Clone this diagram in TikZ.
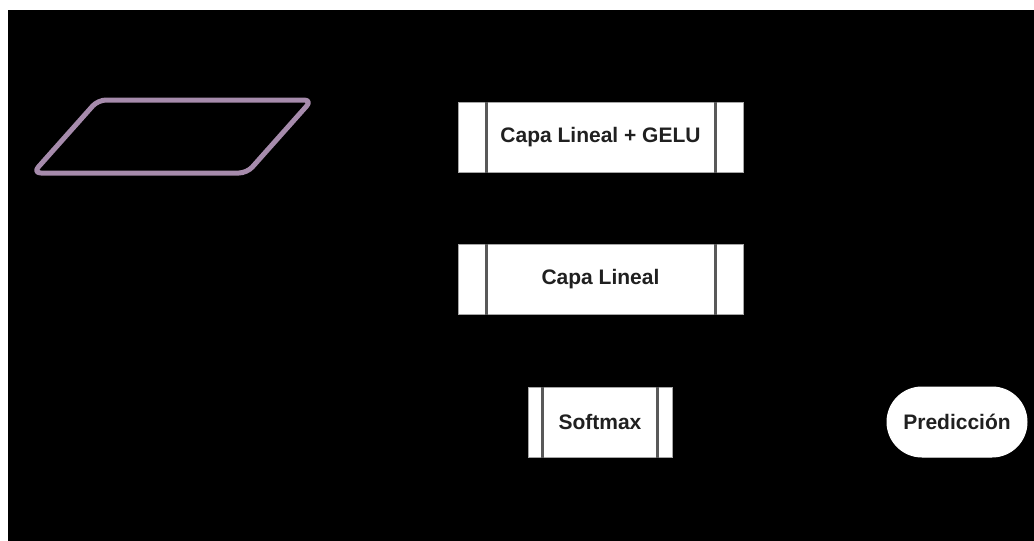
\documentclass[tikz,border=0pt]{standalone}
\usepackage{fontspec}
\setmainfont{Liberation Sans}
\definecolor{lila}{HTML}{A68BAC}
\definecolor{txt}{HTML}{202020}
\begin{document}
\begin{tikzpicture}[x=1pt,y=-1pt,
  procbox/.style={draw=black!35, line width=1pt, fill=white, minimum height=70pt, inner sep=0pt,
    font=\bfseries\fontsize{21}{25}\selectfont, text=txt},
  innerline/.style={draw=black!65, line width=2.5pt},
  termbox/.style={draw=white, line width=1pt, fill=white, rounded corners=35pt, minimum width=140pt,
    minimum height=70pt, inner sep=0pt, font=\bfseries\fontsize{21}{25}\selectfont, text=txt},
  datashape/.style={draw=lila, line width=5pt, rounded corners=8pt, line join=round}
]
\fill[white] (0,0) rectangle (1034,541);
\fill[black] (8,10) rectangle (1034,541);
\useasboundingbox (0,0) rectangle (1034,541);

% data (parallelogram)
\coordinate (pa) at (33,173);
\coordinate (pb) at (98,100);
\coordinate (pc) at (312,100);
\coordinate (pd) at (247,173);
\draw[datashape] (pa) -- (pb) -- (pc) -- (pd) -- cycle;

% predefined process boxes
\node[procbox, minimum width=285pt] (gelu) at (600.5,137) {Capa Lineal + GELU};
\draw[innerline] ([xshift=29pt]gelu.north west) -- ([xshift=29pt]gelu.south west);
\draw[innerline] ([xshift=-28pt]gelu.north east) -- ([xshift=-28pt]gelu.south east);

\node[procbox, minimum width=285pt] (lin) at (600.5,279) {Capa Lineal};
\draw[innerline] ([xshift=29pt]lin.north west) -- ([xshift=29pt]lin.south west);
\draw[innerline] ([xshift=-28pt]lin.north east) -- ([xshift=-28pt]lin.south east);

\node[procbox, minimum width=144pt] (soft) at (600,422) {Softmax};
\draw[innerline] ([xshift=15pt]soft.north west) -- ([xshift=15pt]soft.south west);
\draw[innerline] ([xshift=-15pt]soft.north east) -- ([xshift=-15pt]soft.south east);

% terminal
\node[termbox] (pred) at (957,422) {Predicción};
\end{tikzpicture}
\end{document}
